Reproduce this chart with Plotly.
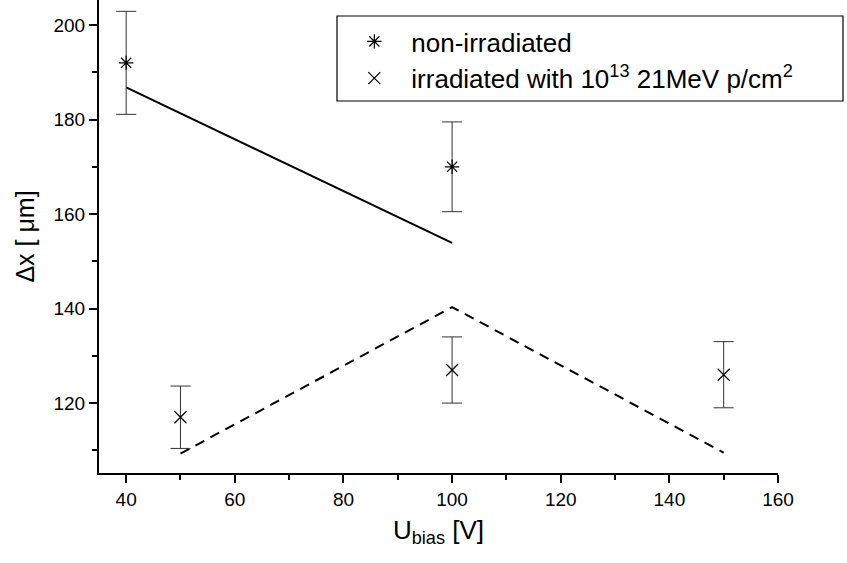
import plotly.graph_objects as go

# Data
u_non = [40, 100]
dx_non = [192, 170]
err_non = [10.9, 9.5]

u_irr = [50, 100, 150]
dx_irr = [117, 127, 126]
err_irr = [6.6, 7.0, 7.0]

fit_non_x = [40, 100]
fit_non_y = [186.8, 153.9]

fit_irr_x = [50, 100, 150]
fit_irr_y = [109.3, 140.3, 109.5]

x_ticks = [40, 60, 80, 100, 120, 140, 160]
y_ticks = [120, 140, 160, 180, 200]

FONT = "Arial, Liberation Sans, sans-serif"

fig = go.Figure()

fig.add_trace(go.Scatter(
    x=fit_non_x, y=fit_non_y, mode="lines",
    line=dict(color="black", width=2), showlegend=False, hoverinfo="skip"))
fig.add_trace(go.Scatter(
    x=fit_irr_x, y=fit_irr_y, mode="lines",
    line=dict(color="black", width=2, dash="10px,7px"), showlegend=False, hoverinfo="skip"))

fig.add_trace(go.Scatter(
    x=u_non, y=dx_non, mode="markers", name="non-irradiated",
    marker=dict(symbol="asterisk-open", size=12, color="black", line=dict(width=1.2, color="black")),
    error_y=dict(type="data", array=err_non, visible=True, thickness=1, width=10, color="#333")))
fig.add_trace(go.Scatter(
    x=u_irr, y=dx_irr, mode="markers", name="irradiated with 10<sup>13</sup> 21MeV p/cm<sup>2</sup>",
    marker=dict(symbol="x-thin-open", size=12, color="black", line=dict(width=1.2, color="black")),
    error_y=dict(type="data", array=err_irr, visible=True, thickness=1, width=10, color="#333")))

fig.update_layout(
    width=847, height=563,
    margin=dict(l=99, r=69, t=0, b=90, autoexpand=False),
    paper_bgcolor="white", plot_bgcolor="white",
    font=dict(family=FONT, color="black"),
    showlegend=True,
    legend=dict(x=0.351, y=0.962, xanchor="left", yanchor="top",
                bgcolor="rgba(0,0,0,0)", borderwidth=0,
                font=dict(size=26, family=FONT), itemwidth=64),
    shapes=[dict(type="rect", xref="paper", yref="paper",
                 x0=(337 - 99) / 679, x1=(843 - 99) / 679,
                 y0=1 - 101 / 473, y1=1 - 16 / 473,
                 line=dict(color="black", width=1.2), fillcolor="rgba(0,0,0,0)")],
)

fig.update_xaxes(
    range=[35, 160], tickvals=x_ticks, ticktext=[str(v) for v in x_ticks],
    showline=True, linecolor="black", linewidth=2, mirror=False,
    ticks="outside", ticklen=8, tickwidth=2, tickcolor="black",
    minor=dict(ticks="outside", ticklen=5, tickwidth=2, tickcolor="black", dtick=10, tick0=0, showgrid=False),
    showgrid=False, zeroline=False, automargin=False,
    tickfont=dict(size=19, family=FONT),
    title=dict(text="U<sub>bias</sub> [V]", font=dict(size=26, family=FONT), standoff=12),
)
fig.update_yaxes(
    range=[105.2, 205.3], tickvals=y_ticks, ticktext=[str(v) for v in y_ticks],
    showline=True, linecolor="black", linewidth=2, mirror=False,
    ticks="outside", ticklen=8, tickwidth=2, tickcolor="black",
    minor=dict(ticks="outside", ticklen=5, tickwidth=2, tickcolor="black", dtick=10, tick0=0, showgrid=False),
    showgrid=False, zeroline=False, automargin=False,
    tickfont=dict(size=19, family=FONT),
    title=dict(text="Δx [ μm]", font=dict(size=25, family=FONT), standoff=12),
)

fig.write_html("out.html", config={"displayModeBar": False},
               post_script="document.body.style.margin='0';")
